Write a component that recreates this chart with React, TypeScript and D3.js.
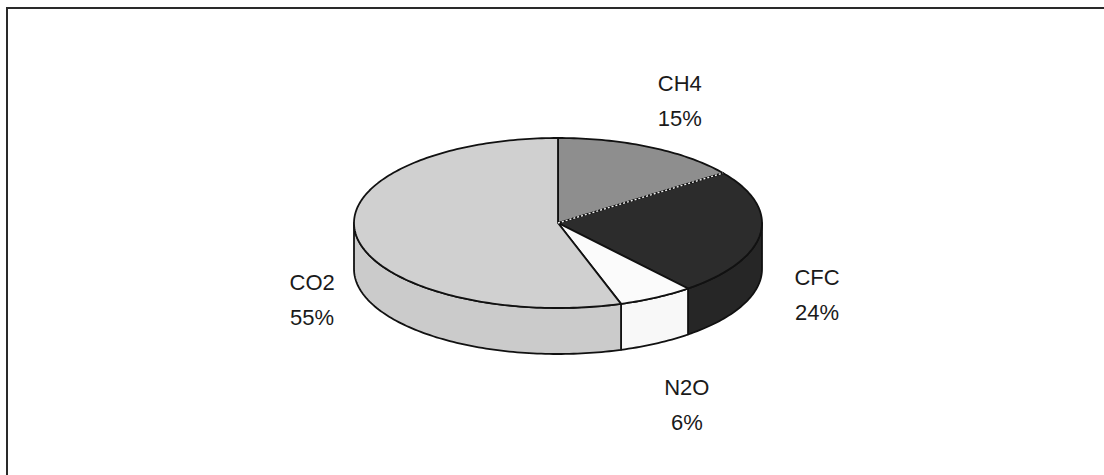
import * as d3 from "d3";

// greenhouse gas shares (percent)
const categories = ["CH4", "CFC", "N2O", "CO2"];
const shares = [15, 24, 6, 55];
const percentLabels = ["15%", "24%", "6%", "55%"];

const topColors: Record<string, string> = {
  CH4: "#8e8e8e",
  CFC: "#2c2c2c",
  N2O: "#fbfbfb",
  CO2: "#d0d0d0",
};
const sideColors: Record<string, string> = {
  CH4: "#7a7a7a",
  CFC: "#262626",
  N2O: "#f8f8f8",
  CO2: "#cbcbcb",
};

const W = 1104;
const H = 475;

// pie geometry
const CX = 558;
const CY = 223;
const RX = 204;
const RY = 85;
const DEPTH = 46;
const LABEL_CX = CX + 6;
const LABEL_RX = 255;
const LABEL_RY = 146;

const ell = (a: number, dy = 0): [number, number] => [
  CX + RX * Math.sin(a),
  CY - RY * Math.cos(a) + dy,
];

const arcPts = (a0: number, a1: number, dy: number) => {
  const n = Math.max(2, Math.ceil((a1 - a0) / 0.02));
  return d3.range(n + 1).map((i) => ell(a0 + ((a1 - a0) * i) / n, dy));
};

const line = d3.line();

function App() {
  const arcs = d3
    .pie<number>()
    .sort(null)
    .value((d) => d)(shares);

  const slices = arcs.map((arc, i) => {
    const name = categories[i];
    const a0 = arc.startAngle;
    const a1 = arc.endAngle;
    const top = line([[CX, CY], ...arcPts(a0, a1, 0)]) + "Z";
    // front wall: only the part facing the viewer
    const s = Math.max(a0, Math.PI / 2);
    const e = Math.min(a1, (3 * Math.PI) / 2);
    const side =
      s < e
        ? line([...arcPts(s, e, 0), ...arcPts(s, e, DEPTH).reverse()]) + "Z"
        : null;
    const mid = (a0 + a1) / 2;
    const sn = Math.sin(mid);
    const cs = Math.cos(mid);
    const base = cs < 0 ? CY + DEPTH : CY;
    const lx = LABEL_CX + sn * LABEL_RX;
    const ly = base - cs * LABEL_RY;
    return { name, top, side, lx, ly, pct: percentLabels[i] };
  });

  // dotted edge between CH4 and CFC
  const ch4End = ell(arcs[0].endAngle);

  return (
    <div style={{ position: "absolute", left: 0, top: 0 }}>
      <svg width={W} height={H} style={{ display: "block", background: "#fff" }}>
        <rect
          x={7}
          y={8}
          width={W + 20}
          height={H + 20}
          fill="#fff"
          stroke="#2a2a2a"
          strokeWidth={2}
        />
        <g stroke="#111" strokeWidth={1.8} strokeLinejoin="round">
          {slices.map((d) =>
            d.side ? (
              <path key={"s" + d.name} d={d.side} fill={sideColors[d.name]} />
            ) : null
          )}
          {slices.map((d) => (
            <path key={"t" + d.name} d={d.top} fill={topColors[d.name]} />
          ))}
        </g>
        <line
          x1={CX}
          y1={CY}
          x2={ch4End[0]}
          y2={ch4End[1]}
          stroke="#eee"
          strokeWidth={1.4}
          strokeDasharray="2,2"
        />
        <g
          fontFamily="'Liberation Sans', Arial, sans-serif"
          fontSize={22}
          fill="#1a1a1a"
          textAnchor="middle"
        >
          {slices.map((d) => (
            <g key={"l" + d.name}>
              <text x={d.lx} y={d.ly - 2}>
                {d.name}
              </text>
              <text x={d.lx} y={d.ly + 33}>
                {d.pct}
              </text>
            </g>
          ))}
        </g>
      </svg>
    </div>
  );
}

export default App;
